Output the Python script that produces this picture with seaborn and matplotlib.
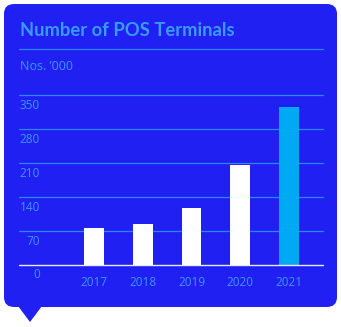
import matplotlib
matplotlib.use('Agg')
import matplotlib.pyplot as plt
import seaborn as sns
import pandas as pd
from matplotlib.patches import FancyBboxPatch, Polygon
from matplotlib.lines import Line2D

# ---- data ----
years = ['2017', '2018', '2019', '2020', '2021']
terminals = [76, 84, 117, 206, 326]
yticks = [0, 70, 140, 210, 280, 350]
ytick_labels = ['0', '70', '140', '210', '280', '350']
title = 'Number of POS Terminals'
unit = 'Nos. \u2019000'

# ---- style ----
BG = '#2020F2'
TITLE_C = '#3A9BFF'
GRID_C = '#2E86FF'
LABEL_C = '#3F95FA'
bar_colors = ['#FFFFFF', '#FFFFFF', '#FFFFFF', '#FFFFFF', '#00A9F4']

sns.set_theme(style='white')
plt.rcParams['font.family'] = ['Open Sans', 'DejaVu Sans']

W, H = 341, 327
fig = plt.figure(figsize=(W / 100, H / 100), dpi=100, facecolor='white')

def fx(px):
    return px / W

def fy(py):
    return 1 - py / H

card = FancyBboxPatch((fx(4), fy(307)), fx(337) - fx(4), fy(4) - fy(307),
                      boxstyle='round,pad=0,rounding_size=0.03',
                      transform=fig.transFigure, facecolor=BG, edgecolor='none', zorder=-5)
fig.patches.append(card)
tri = Polygon([(fx(18), fy(306)), (fx(42), fy(306)), (fx(30), fy(322))],
              closed=True, transform=fig.transFigure, facecolor=BG, edgecolor='none', zorder=-5)
fig.patches.append(tri)

fig.text(fx(20), fy(31), title, ha='left', va='center', fontsize=13.2,
         fontweight='bold', color=TITLE_C, family=['Lato', 'DejaVu Sans'])
fig.lines.append(Line2D([fx(19), fx(322.7)], [fy(49.3), fy(49.3)],
                        transform=fig.transFigure, color=GRID_C, lw=0.9))
fig.text(fx(20), fy(67), unit, ha='left', va='center', fontsize=9, color=LABEL_C)

ax = fig.add_axes([fx(19), fy(265), fx(322.7) - fx(19), fy(95.3) - fy(265)])
ax.set_zorder(2)
ax.patch.set_visible(False)

df = pd.DataFrame({'year': years, 'value': terminals})
sns.barplot(data=df, x='year', y='value', hue='year', palette=bar_colors,
            width=0.41, dodge=False, legend=False, saturation=1, ax=ax, zorder=3,
            linewidth=0, edgecolor='none')

for v in yticks[1:]:
    ax.axhline(v, color=GRID_C, lw=0.9, zorder=1, clip_on=False)
ax.axhline(0, color='#E8ECFF', lw=1.0, zorder=4, clip_on=False)

ax.set_xlim(-1.55, 4.7)
ax.set_ylim(0, 350)
for s in ax.spines.values():
    s.set_visible(False)
ax.set_xlabel('')
ax.set_ylabel('')
ax.set_yticks([])
ax.tick_params(axis='x', length=0, pad=8.0, labelsize=8.5, labelcolor=LABEL_C)

for v, lab in zip(yticks, ytick_labels):
    ax.annotate(lab, xy=(0, v), xycoords=('axes fraction', 'data'),
                xytext=(21, -10), textcoords='offset pixels',
                ha='right', va='center', fontsize=8.5, color=LABEL_C,
                annotation_clip=False)

fig.savefig('out.png', dpi=100, facecolor='white')
